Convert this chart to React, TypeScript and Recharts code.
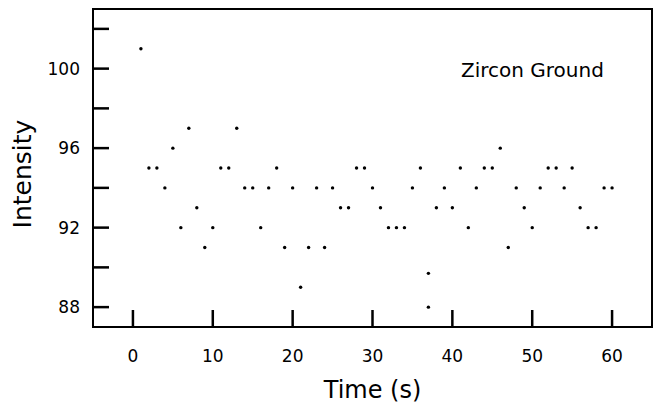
import { ScatterChart, Scatter, XAxis, YAxis, ReferenceArea } from "recharts";

// readings, one per second
const time = [
  1, 2, 3, 4, 5, 6, 7, 8, 9, 10, 11, 12, 13, 14, 15, 16, 17, 18, 19, 20,
  21, 22, 23, 24, 25, 26, 27, 28, 29, 30, 31, 32, 33, 34, 35, 36, 37, 37, 38, 39,
  40, 41, 42, 43, 44, 45, 46, 47, 48, 49, 50, 51, 52, 53, 54, 55, 56, 57, 58, 59, 60,
];
const intensity = [
  101, 95, 95, 94, 96, 92, 97, 93, 91, 92, 95, 95, 97, 94, 94, 92, 94, 95, 91, 94,
  89, 91, 94, 91, 94, 93, 93, 95, 95, 94, 93, 92, 92, 92, 94, 95, 88, 89.7, 93, 94,
  93, 95, 92, 94, 95, 95, 96, 91, 94, 93, 92, 94, 95, 95, 94, 95, 93, 92, 92, 94, 94,
];

const xTicks = [0, 10, 20, 30, 40, 50, 60];
const yTicks = [88, 90, 92, 94, 96, 98, 100, 102];
const yLabelled = [88, 92, 96, 100];

const data = time.map((t, i) => ({ t, v: intensity[i] }));

const FONT = "'DejaVu Sans', sans-serif";

const XTick = ({ x, y, payload }: any) => (
  <g>
    <line x1={x} x2={x} y1={y} y2={y - 17} stroke="#000" strokeWidth={2.5} />
    <text x={x} y={y + 35} textAnchor="middle" fontFamily={FONT} fontSize={17} fill="#000">
      {payload.value}
    </text>
  </g>
);

const YTick = ({ x, y, payload }: any) => (
  <g>
    <line x1={x} x2={x + 16} y1={y} y2={y} stroke="#000" strokeWidth={2.5} />
    {yLabelled.includes(payload.value) && (
      <text x={x - 13} y={y + 6} textAnchor="end" fontFamily={FONT} fontSize={17} fill="#000">
        {payload.value}
      </text>
    )}
  </g>
);

const Dot = ({ cx, cy }: any) => <circle cx={cx} cy={cy} r={1.7} fill="#000" />;

export default function App() {
  return (
    <div style={{ position: "absolute", left: 0, top: 0, background: "#fff" }}>
      <ScatterChart width={665} height={410} margin={{ top: 9, right: 13, bottom: 0, left: 0 }}>
        <XAxis
          type="number"
          dataKey="t"
          domain={[-5, 65]}
          ticks={xTicks}
          interval={0}
          height={83}
          tickSize={0}
          tickMargin={0}
          axisLine={false}
          tickLine={false}
          tick={<XTick />}
          label={{
            value: "Time (s)",
            position: "insideBottom",
            offset: 12,
            fontFamily: FONT,
            fontSize: 24,
            fill: "#000",
          }}
        />
        <YAxis
          type="number"
          dataKey="v"
          domain={[87, 103]}
          ticks={yTicks}
          interval={0}
          width={93}
          tickSize={0}
          tickMargin={0}
          axisLine={false}
          tickLine={false}
          tick={<YTick />}
        />
        <ReferenceArea
          x1={-5}
          x2={65}
          y1={87}
          y2={103}
          fill="none"
          fillOpacity={0}
          stroke="#000"
          strokeWidth={2}
          ifOverflow="visible"
        />
        <Scatter data={data} shape={<Dot />} isAnimationActive={false} />
        <text
          x={31}
          y={174}
          textAnchor="middle"
          transform="rotate(-90, 31, 174)"
          fontFamily={FONT}
          fontSize={25}
          fill="#000"
        >
          Intensity
        </text>
        <text x={461} y={77} fontFamily={FONT} fontSize={20} fill="#000">
          Zircon Ground
        </text>
      </ScatterChart>
    </div>
  );
}
